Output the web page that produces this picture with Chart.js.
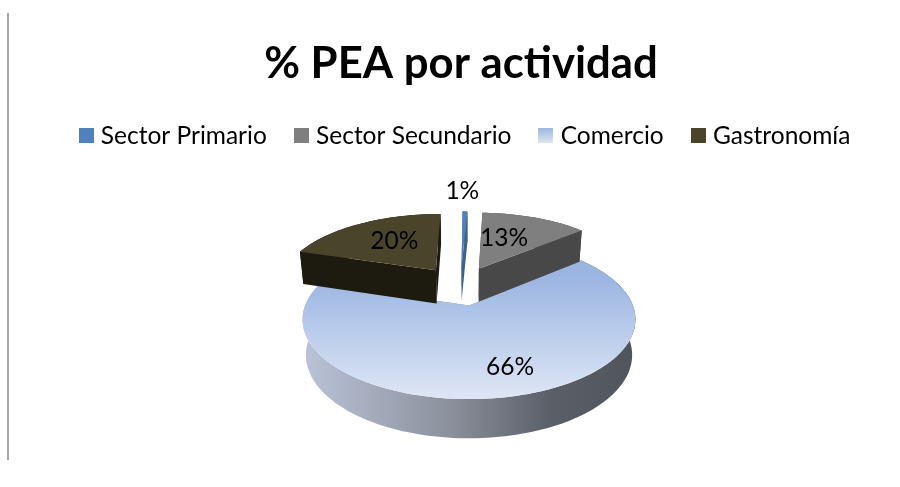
<!DOCTYPE html>
<html>
<head>
<meta charset="utf-8">
<style>
  html, body { margin: 0; padding: 0; background: #fff; }
  #wrap { position: relative; width: 900px; height: 487px; }
  #regla { position: absolute; left: 7px; top: 13px; width: 2px; height: 447px; background: #a6a6a6; }
</style>
<script src="https://cdn.jsdelivr.net/npm/chart.js@4"></script>
</head>
<body>
<div id="wrap">
  <div id="regla"></div>
  <canvas id="grafico" width="900" height="487"></canvas>
</div>
<script>
const titulo = '% PEA por actividad';
const categorias = ['Sector Primario', 'Sector Secundario', 'Comercio', 'Gastronomía'];
const valores = [0.6, 13.2, 66, 20.2];

const coloresCara = ['#4F81BD', '#7F7F7F', null, '#4A452A'];
const coloresPared = ['#3B6190', '#484848', null, '#1D1A0F'];
// donde va cada etiqueta: angulo (grados desde arriba) y radio relativo
const anguloEtiqueta = [-0.2, 20.1, 162.6, 327];
const radioEtiqueta = [1.445, 0.543, 0.736, 0.577];

// perspectiva de la tarta, todo relativo al radio que calcula Chart.js
const vista = { dx: 8, dy: -17, escala: 1.134, k: 0.4714, b: 0.175, alto: 0.213, encoge: 0.98 };

const fuente = 'Lato, Carlito, Calibri, sans-serif';

function muestra(color) {
  const c = document.createElement('canvas');
  c.width = 15; c.height = 15;
  const g = c.getContext('2d');
  if (color) {
    g.fillStyle = color;
  } else {
    const lg = g.createLinearGradient(0, 0, 0, 15);
    lg.addColorStop(0, '#9DB8E3');
    lg.addColorStop(1, '#DEE6F4');
    g.fillStyle = lg;
  }
  g.fillRect(0, 0, 15, 15);
  return c;
}

const tarta3d = {
  id: 'tarta3d',
  // la leyenda del original no va centrada con el titulo
  afterLayout(chart) {
    chart.legend.left += 6;
    chart.legend.right += 6;
  },
  beforeDatasetDraw(chart) {
    const ctx = chart.ctx;
    const arcos = chart.getDatasetMeta(0).data;
    const ref = arcos[0];
    const R = ref.outerRadius;
    const s = vista.escala * R;

    // el centro de la porcion mas grande hace de origen de la perspectiva
    const desplaz = (a) => {
      const mid = (a.startAngle + a.endAngle) / 2;
      const d = a.options.offset / R;
      return [Math.cos(mid) * d, Math.sin(mid) * d];
    };
    const iMax = valores.indexOf(Math.max(...valores));
    const [ou, ov] = desplaz(arcos[iMax]);
    const X0 = ref.x + vista.dx;
    const Y0 = ref.y + vista.dy;

    const proy = (u, v) => {
      const uu = u - ou, vv = v - ov;
      const w = 1 - vista.b * vv;
      return [X0 + s * uu / w, Y0 + vista.k * s * vv / w];
    };
    const proyBase = (u, v) => {
      const uu = u - ou, vv = v - ov;
      const w = 1 - vista.b * vv;
      return [X0 + vista.encoge * s * uu / w, Y0 + vista.k * s * vv / w + vista.alto * s / Math.pow(w, 0.6)];
    };

    const contorno = (a, fn) => {
      const [du, dv] = desplaz(a);
      const pts = [fn(du, dv)];
      const n = Math.max(2, Math.ceil((a.endAngle - a.startAngle) / 0.03));
      for (let i = 0; i <= n; i++) {
        const t = a.startAngle + (a.endAngle - a.startAngle) * i / n;
        pts.push(fn(du + Math.cos(t), dv + Math.sin(t)));
      }
      return pts;
    };

    const traza = (pts) => {
      ctx.beginPath();
      pts.forEach((p, j) => j ? ctx.lineTo(p[0], p[1]) : ctx.moveTo(p[0], p[1]));
      ctx.closePath();
      ctx.fill();
    };

    const dibuja = (i) => {
      const a = arcos[i];
      const cara = contorno(a, proy);
      const base = contorno(a, proyBase);
      let pared = coloresPared[i];
      let relleno = coloresCara[i];
      if (!relleno) {
        const xs = cara.map(p => p[0]), ys = cara.map(p => p[1]);
        const x0 = Math.min(...xs), x1 = Math.max(...xs);
        pared = ctx.createLinearGradient(x0, 0, x1, 0);
        pared.addColorStop(0, '#BAC4D8');
        pared.addColorStop(0.45, '#8A8F9B');
        pared.addColorStop(0.75, '#5A5E67');
        pared.addColorStop(1, '#50545C');
        relleno = ctx.createLinearGradient(0, Math.min(...ys) + 15, 0, Math.max(...ys));
        relleno.addColorStop(0, '#9AB5E2');
        relleno.addColorStop(1, '#DFE7F5');
      }
      // paredes en una sola pasada: banda del arco y los dos lados rectos
      ctx.fillStyle = pared;
      traza(cara.slice(1).concat(base.slice(1).reverse()));
      const ult = cara.length - 1;
      traza([cara[0], cara[1], base[1], base[0]]);
      traza([cara[0], cara[ult], base[ult], base[0]]);
      ctx.fillStyle = relleno;
      traza(cara);
    };

    // primero la grande, las de atras la tapan en la imagen original
    dibuja(iMax);
    arcos.forEach((_, i) => { if (i !== iMax) dibuja(i); });

    ctx.fillStyle = '#000';
    ctx.font = '24.5px ' + fuente;
    ctx.textAlign = 'center';
    ctx.textBaseline = 'middle';
    arcos.forEach((a, i) => {
      const [du, dv] = desplaz(a);
      const t = (anguloEtiqueta[i] - 90) * Math.PI / 180;
      const p = proy(du + Math.cos(t) * radioEtiqueta[i], dv + Math.sin(t) * radioEtiqueta[i]);
      ctx.fillText(Math.round(valores[i]) + '%', p[0], p[1]);
    });
    return false;
  },
};

const lienzo = document.getElementById('grafico');
lienzo.getContext('2d').letterSpacing = '0.01px'; // sin la ligadura "ti" de Lato

new Chart(lienzo, {
  type: 'pie',
  data: {
    labels: categorias,
    datasets: [{
      data: valores,
      backgroundColor: coloresCara.map(c => c || '#BFD0EC'),
      borderWidth: 0,
      offset: 40,
    }],
  },
  options: {
    responsive: false,
    animation: false,
    layout: { padding: { left: 22, top: 38, bottom: 0 } },
    plugins: {
      tooltip: { enabled: false },
      title: {
        display: true,
        text: titulo,
        color: '#000',
        font: { family: fuente, size: 43.7, weight: 'bold' },
        padding: { top: 0, bottom: 1 },
      },
      legend: {
        position: 'top',
        labels: {
          color: '#000',
          font: { family: fuente, size: 24.5 },
          usePointStyle: true,
          pointStyleWidth: 5,
          boxHeight: 15,
          padding: 32,
          generateLabels(chart) {
            return categorias.map((nombre, i) => ({
              text: nombre,
              pointStyle: muestra(coloresCara[i]),
              fontColor: '#000',
              lineWidth: 0,
              index: i,
            }));
          },
        },
      },
    },
  },
  plugins: [tarta3d],
});
</script>
</body>
</html>
